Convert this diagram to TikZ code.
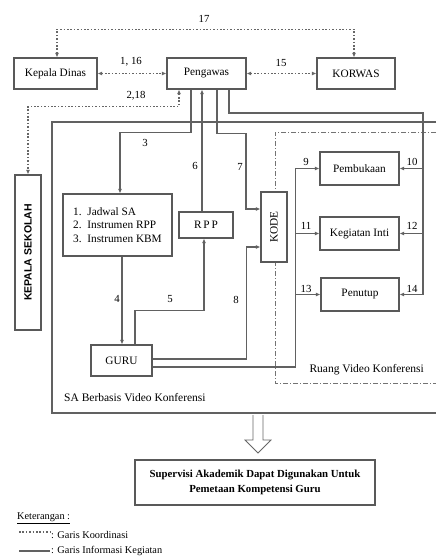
\documentclass[tikz,border=0pt]{standalone}
\usepackage{fontspec}
\setmainfont{Liberation Serif}
\newfontfamily\sansf{Liberation Sans}
\usepackage{graphicx}
\usetikzlibrary{arrows.meta}
\begin{document}
\begin{tikzpicture}[x=1pt,y=-1pt,
  box/.style={draw=black!65,line width=1.1pt,rectangle,inner sep=0pt,align=center,font=\fontsize{11.3}{13.5}\selectfont},
  ln/.style={draw=black!62,line width=1.2pt},
  co/.style={draw=black!60,line width=1.3pt,dash pattern=on 1.6pt off 1.8pt},
  tip/.style={-{Latex[length=4.5pt,width=4pt]}},
  tips/.style={{Latex[length=4.5pt,width=4pt]}-{Latex[length=4.5pt,width=4pt]}},
  lab/.style={font=\fontsize{10.8}{12}\selectfont,inner sep=0pt},
  zone/.style={draw=black!55,line width=0.9pt,dash pattern=on 5pt off 2pt on 1pt off 2pt}
]
\useasboundingbox (0,0) rectangle (436,559);

% frames
\draw[ln,line width=1.3pt] (436,122) -- (52,122) -- (52,413) -- (436,413);
\draw[zone] (436,132) -- (275,132) -- (275,383) -- (436,383);
\node[lab,anchor=west,font=\fontsize{11.5}{13}\selectfont] (tsa) at (64,398) {SA Berbasis Video Konferensi};
\node[lab,anchor=east,font=\fontsize{11.5}{13}\selectfont] (tru) at (424,370) {Ruang Video Konferensi};

% nodes
\node[box,minimum width=83pt,minimum height=31pt] (kd) at (55.5,73.5) {Kepala Dinas};
\node[box,minimum width=79pt,minimum height=31pt] (pg) at (206.5,73.5) {Pengawas};
\node[box,minimum width=78pt,minimum height=31pt] (kw) at (356,73.5) {KORWAS};
\node[box,minimum width=26pt,minimum height=155pt] (ks) at (28,252.5) {\rotatebox{90}{\sansf\bfseries\fontsize{10.5}{12}\selectfont KEPALA SEKOLAH}};
\node[box,minimum width=109pt,minimum height=62pt,align=left] (list) at (117.5,225)
  {1.\ \ Jadwal SA\\2.\ \ Instrumen RPP\\3.\ \ Instrumen KBM};
\node[box,minimum width=54pt,minimum height=26pt,fill=white] (rpp) at (206,225) {R\,P\,P};
\node[box,minimum width=26pt,minimum height=70pt,fill=white] (kode) at (274,227) {\rotatebox{90}{KODE}};
\node[box,minimum width=61pt,minimum height=31pt] (guru) at (121.5,360.5) {GURU};
\node[box,minimum width=79pt,minimum height=33pt] (pemb) at (359.5,168.5) {Pembukaan};
\node[box,minimum width=79pt,minimum height=33pt] (keg) at (359.5,233.5) {Kegiatan Inti};
\node[box,minimum width=78pt,minimum height=33pt] (pen) at (360,294.5) {Penutup};
\node[box,minimum width=240pt,minimum height=45pt,font=\bfseries\fontsize{10.8}{15}\selectfont] (fin) at (255,482.5)
  {Supervisi Akademik Dapat Digunakan Untuk\\Pemetaan Kompetensi Guru};

% coordination lines (dotted)
\draw[co,tips] ([xshift=1.5pt]kd.north) -- ++(0,-28) -| ([xshift=-2pt]kw.north);
\draw[co,tips] (kd.east) -- (pg.west);
\draw[co,tips] (pg.east) -- (kw.west);
\draw[co,tips] ([xshift=-27.5pt]pg.south) -- ++(0,17) -| (ks.north);

% information lines
\draw[ln,tip] ([xshift=-15.5pt]pg.south) -- ++(0,43) -| ([xshift=2.5pt]list.north);
\draw[ln,tip] ([xshift=-4pt]rpp.north) -- ([xshift=-4.5pt]pg.south);
\draw[ln,tip] ([xshift=10.5pt]pg.south) -- ++(0,44) -- ++(29,0) |- ([yshift=18pt]kode.west);
\coordinate (rt) at (423,113);
\draw[ln] ([xshift=22.5pt]pg.south) |- (rt) -- (rt |- pen.east);
\draw[ln,tip] (rt |- pemb.east) -- (pemb.east);
\draw[ln,tip] (rt |- keg.east) -- (keg.east);
\draw[ln,tip] (rt |- pen.east) -- (pen.east);
\draw[ln,tip] ([xshift=4.5pt]list.south) -- ([xshift=0.5pt]guru.north);
\draw[ln,tip] ([xshift=13.5pt]guru.north) -- ++(0,-34) -| ([xshift=-2pt]rpp.south);
\draw[ln,tip] ([yshift=1.5pt]guru.east) -- ++(94,0) |- ([yshift=-20pt]kode.west);
\coordinate (v9) at ([xshift=143pt,yshift=-6.5pt]guru.east);
\draw[ln,tip] ([yshift=-6.5pt]guru.east) -- (v9) |- (pemb.west);
\draw[ln,tip] (v9 |- keg.west) -- (keg.west);
\draw[ln,tip] (v9 |- pen.west) -- (pen.west);

% labels
\node[lab] (l17) at (204,19) {17};
\node[lab] (l116) at (131,62) {1, 16};
\node[lab] (l15) at (281,63) {15};
\node[lab] (l218) at (136,96) {2,18};
\node[lab] (l3) at (145,143) {3};
\node[lab] (l6) at (195,166) {6};
\node[lab] (l7) at (240,167) {7};
\node[lab] (l4) at (117,299) {4};
\node[lab] (l5) at (170,299) {5};
\node[lab] (l8) at (236,300) {8};
\node[lab] (l9) at (306,162) {9};
\node[lab] (l11) at (306,226) {11};
\node[lab] (l13) at (306,289) {13};
\node[lab] (l10) at (412,162) {10};
\node[lab] (l12) at (412,226) {12};
\node[lab] (l14) at (412,289) {14};

% hollow arrow
\draw[draw=black!60,line width=0.8pt,fill=white] (253,415) -- (253,440) -- (245,440) -- (258,453) -- (271,440) -- (263,440) -- (263,415);

% legend
\node[lab,anchor=west,font=\fontsize{10.3}{12}\selectfont] (ket) at (17,518) {\underline{Keterangan :}};
\draw[co] (19,532) -- (50,532);
\node[lab,anchor=west,font=\fontsize{10.3}{12}\selectfont] (lg1) at (51,535) {: Garis Koordinasi};
\draw[ln] (19,551) -- (50,551);
\node[lab,anchor=west,font=\fontsize{10.3}{12}\selectfont] (lg2) at (51,551) {: Garis Informasi Kegiatan};
\end{tikzpicture}
\end{document}
